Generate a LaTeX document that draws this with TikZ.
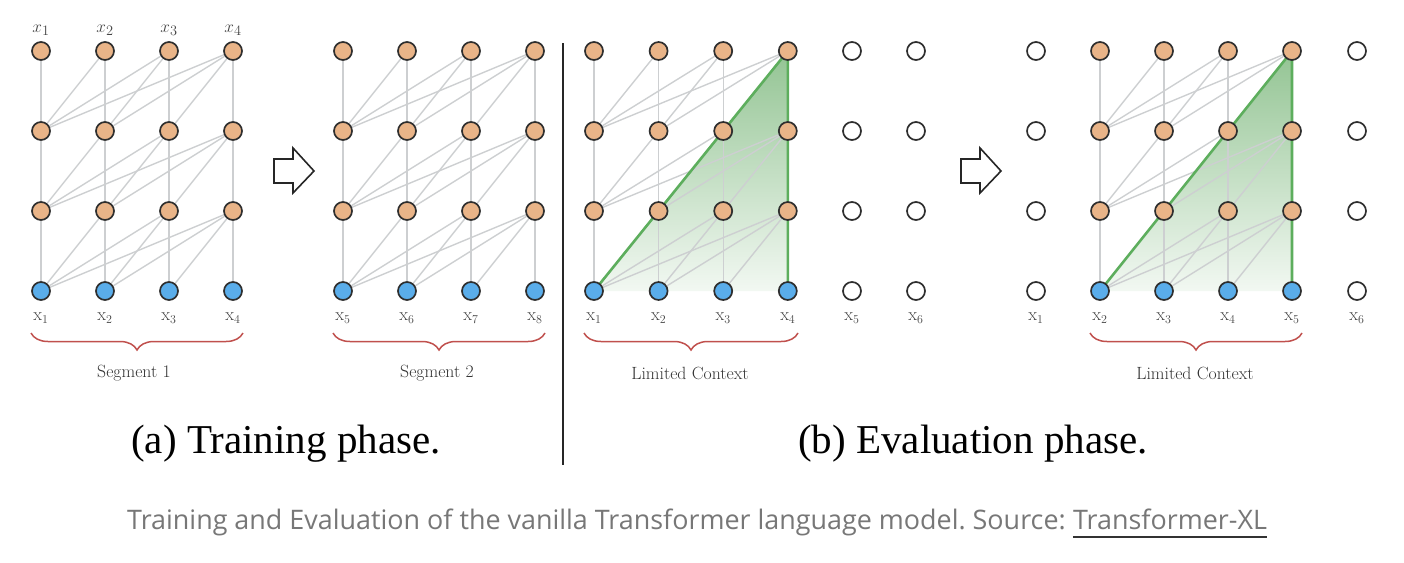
\documentclass[tikz,border=0pt]{standalone}
\usepackage{fontspec}
\newfontfamily\capfont{Open Sans}
\newfontfamily\timesfont{Liberation Serif}
\usetikzlibrary{decorations.pathreplacing,backgrounds,calc}
\definecolor{nodeor}{HTML}{E9B488}
\definecolor{nodebl}{HTML}{5AADEA}
\definecolor{nodeline}{HTML}{2E2E2E}
\definecolor{edgegray}{HTML}{CDCFD1}
\definecolor{bracered}{HTML}{C0504D}
\definecolor{greenln}{HTML}{5DAE5D}
\definecolor{greentop}{HTML}{93C493}
\definecolor{greenbot}{HTML}{F2F8F2}
\definecolor{labgray}{HTML}{444444}
\definecolor{capgray}{HTML}{777777}
\tikzset{
  basenode/.style={circle, minimum size=18pt, inner sep=0pt, line width=1.7pt, draw=nodeline},
  orangenode/.style={basenode, fill=nodeor},
  bluenode/.style={basenode, fill=nodebl},
  emptynode/.style={basenode, fill=white},
  edge/.style={draw=edgegray, line width=1.4pt},
  greenline/.style={draw=greenln, line width=2.6pt, line join=round},
  lbl/.style={inner sep=0pt, text=labgray, font=\fontsize{18}{18}\selectfont},
  toplbl/.style={inner sep=0pt, text=labgray, font=\fontsize{19}{19}\selectfont},
  seglbl/.style={inner sep=0pt, text=black!80, font=\fontsize{17.7}{17.7}\selectfont},
  bracestyle/.style={draw=bracered, line width=1.5pt, decorate, decoration={brace, amplitude=17pt}},
  blockarrow/.style={draw=black!85, line width=1.6pt, fill=white, line join=miter},
  phase/.style={inner sep=0pt, anchor=base, font=\timesfont\fontsize{41}{41}\selectfont},
  captext/.style={inner sep=0pt, anchor=base west, text=capgray, font=\capfont\fontsize{26.9}{26.9}\selectfont}
}
\begin{document}
\frenchspacing
\begin{tikzpicture}[x=1pt, y=-1pt]
\useasboundingbox (0,0) rectangle (1404,562);
% nodes of the four grids
\foreach \g/\xo/\dx in {1/41/64, 2/343/64, 3/594/64.6, 4/1100/64}{
  \foreach \c in {0,...,3}{
    \node[bluenode] (g\g-0-\c) at (\xo+\c*\dx, 291) {};
    \foreach \r/\yy in {1/211, 2/131, 3/51}{
      \node[orangenode] (g\g-\r-\c) at (\xo+\c*\dx, \yy) {};
    }
  }
}
% empty nodes
\foreach \r/\yy in {0/291, 1/211, 2/131, 3/51}{
  \node[emptynode] (g3-\r-4) at (852, \yy) {};
  \node[emptynode] (g3-\r-5) at (916, \yy) {};
  \node[emptynode] (g4-\r-e) at (1036, \yy) {};
  \node[emptynode] (g4-\r-4) at (1357, \yy) {};
}
\begin{pgfonlayer}{background}
  \foreach \g in {3,4}{
    \shade[top color=greentop, bottom color=greenbot]
      (g\g-0-0.center) -- (g\g-3-3.center) -- (g\g-0-3.center) -- cycle;
  }
  \foreach \g in {1,...,4}{
    \foreach \r [evaluate=\r as \rn using int(\r+1)] in {0,1,2}{
      \foreach \j in {0,...,3}{
        \foreach \i in {0,...,\j}{
          \draw[edge] (g\g-\r-\i) -- (g\g-\rn-\j);
        }
      }
    }
  }
  \foreach \g in {3,4}{
    \draw[greenline] (g\g-0-0.center) -- (g\g-3-3.center) -- (g\g-0-3.center);
  }
\end{pgfonlayer}
% top labels
\foreach \c/\n in {0/1,1/2,2/3,3/4}{
  \node[toplbl] (t1-\n) at ($(g1-3-\c)+(0,-21)$) {$x_{\n}$};
}
% bottom labels
\foreach \c/\n in {0/1,1/2,2/3,3/4}{
  \node[lbl] (b1-\n) at ($(g1-0-\c)+(0,27)$) {$\mathrm{x}_{\n}$};
}
\foreach \c/\n in {0/5,1/6,2/7,3/8}{
  \node[lbl] (b2-\n) at ($(g2-0-\c)+(0,27)$) {$\mathrm{x}_{\n}$};
}
\foreach \c/\n in {0/1,1/2,2/3,3/4,4/5,5/6}{
  \node[lbl] (b3-\n) at ($(g3-0-\c)+(0,27)$) {$\mathrm{x}_{\n}$};
}
\node[lbl] (b4-1) at ($(g4-0-e)+(0,27)$) {$\mathrm{x}_{1}$};
\foreach \c/\n in {0/2,1/3,2/4,3/5,4/6}{
  \node[lbl] (b4-\n) at ($(g4-0-\c)+(0,27)$) {$\mathrm{x}_{\n}$};
}
% braces
\draw[bracestyle] (243,333) -- (31,333);
\draw[bracestyle] (545,333) -- (333,333);
\draw[bracestyle] (798,333) -- (584,333);
\draw[bracestyle] (1302,333) -- (1090,333);
\node[seglbl] (s1) at (134,373) {Segment 1};
\node[seglbl] (s2) at (437,373) {Segment 2};
\node[seglbl] (s3) at (690,373) {Limited Context};
\node[seglbl] (s4) at (1195,373) {Limited Context};
% block arrows
\draw[blockarrow] (274,159) -- (293,159) -- (293,148) -- (314,171) -- (293,193) -- (293,183) -- (274,183) -- cycle;
\draw[blockarrow] (961,159) -- (980,159) -- (980,148) -- (1001,171) -- (980,193) -- (980,183) -- (961,183) -- cycle;
% divider
\draw[line width=1.6pt, black!85] (563,43) -- (563,465);
% phase captions
\node[phase] (pa) at (286,453) {(a) Training phase.};
\node[phase] (pb) at (973,453) {(b) Evaluation phase.};
% figure caption
\node[captext] (cap1) at (127,529) {Training and Evaluation of the vanilla Transformer language model. Source:};
\node[captext] (cap2) at ($(cap1.base east)+(7,0)$) {Transformer-XL};
\draw[line width=2pt, black!80] ($(cap2.base west)+(0,8)$) -- ($(cap2.base east)+(0,8)$);
\end{tikzpicture}
\end{document}
